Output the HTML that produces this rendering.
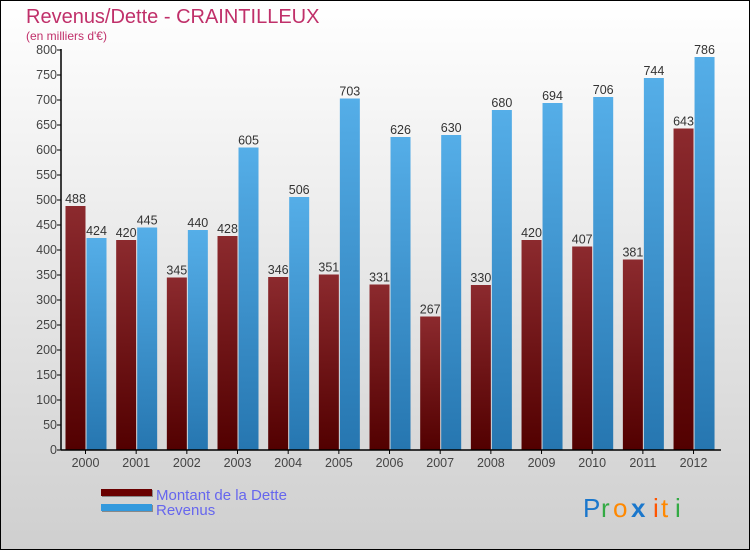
<!DOCTYPE html>
<html><head><meta charset="utf-8"><style>
body{margin:0}
#c{width:748px;height:548px;border:1px solid #000;background:linear-gradient(#fff,#cfcfcf);position:relative;font-family:"Liberation Sans",sans-serif}
</style></head><body>
<div id="c">
<svg id="s" width="748" height="548" style="position:absolute;left:0;top:0">
<defs>
<linearGradient id="gd" x1="0" y1="0" x2="0" y2="1"><stop offset="0" stop-color="#8c2a2e"/><stop offset="1" stop-color="#520000"/></linearGradient>
<linearGradient id="gr" x1="0" y1="0" x2="0" y2="1"><stop offset="0" stop-color="#55aee8"/><stop offset="1" stop-color="#2676b0"/></linearGradient>
</defs>
<text x="25" y="22" font-size="20" fill="#c0306a">Revenus/Dette - CRAINTILLEUX</text>
<text x="25" y="39" font-size="12" fill="#c0306a">(en milliers d'€)</text>
<g id="plot"></g>
<g>
<rect x="101" y="489" width="51" height="7" fill="#888"/>
<rect x="100" y="488" width="51" height="7" fill="#6a0000"/>
<rect x="101" y="504" width="51" height="7" fill="#888"/>
<rect x="100" y="503" width="51" height="7" fill="#3399dd"/>
<text x="155" y="499" font-size="15" fill="#6666ee">Montant de la Dette</text>
<text x="155" y="514" font-size="15" fill="#6666ee">Revenus</text>
</g>
<g font-size="26" font-family="'Liberation Sans',sans-serif">
<text x="582" y="516" fill="#1a77cc">P</text><text x="600" y="516" fill="#33aa44">r</text><text x="612" y="516" fill="#ff8800">o</text><text x="630" y="516" fill="#1a77cc" font-weight="bold">x</text><text x="652" y="516" fill="#ff5500">i</text><text x="660" y="516" fill="#ff8800">t</text><text x="674" y="516" fill="#33aa44">i</text>
</g>
</svg>
</div>
<script>
const years=["2000","2001","2002","2003","2004","2005","2006","2007","2008","2009","2010","2011","2012"];
const dette=[488,420,345,428,346,351,331,267,330,420,407,381,643];
const revenus=[424,445,440,605,506,703,626,630,680,694,706,744,786];
const yTicks=[0,50,100,150,200,250,300,350,400,450,500,550,600,650,700,750,800];
const NS="http://www.w3.org/2000/svg";
const g=document.getElementById("plot");
const y0=449,ppu=0.5,x0=60,step=50.67,c0=84.5;
const yS=v=>y0-v*ppu;
const xC=i=>c0+i*step;
function el(t,a,txt){const e=document.createElementNS(NS,t);for(const k in a)e.setAttribute(k,a[k]);if(txt!=null)e.textContent=txt;g.appendChild(e);return e;}
yTicks.forEach(v=>{
  const t=el("line",{x1:x0-4,x2:x0,y1:yS(v),y2:yS(v),stroke:"#000"});
  
  
  const l=el("text",{x:x0-4,y:yS(v)+4,"font-size":12.5,fill:"#444","text-anchor":"end"},v);
  
  
});
years.forEach((yr,i)=>{
  const c=xC(i);
  const bd=el("rect",{x:c-20,y:yS(dette[i]),width:20,height:dette[i]*ppu,fill:"url(#gd)"});
  
  
  const br=el("rect",{x:c+1,y:yS(revenus[i]),width:20,height:revenus[i]*ppu,fill:"url(#gr)"});
  
  
  const ld=el("text",{x:c-10,y:yS(dette[i])-3,"font-size":12.5,fill:"#333","text-anchor":"middle"},dette[i]);
  
  
  const lr=el("text",{x:c+11,y:yS(revenus[i])-3,"font-size":12.5,fill:"#333","text-anchor":"middle"},revenus[i]);
  
  
  const tk=el("line",{x1:c,x2:c,y1:y0,y2:y0+4,stroke:"#000"});
  
  
  const xl=el("text",{x:c,y:y0+17,"font-size":12.5,fill:"#444","text-anchor":"middle"},yr);
  
  
});
const ya=el("line",{x1:x0,x2:x0,y1:yS(800)-1,y2:y0,stroke:"#000","stroke-width":1.5});


const xa=el("line",{x1:x0,x2:720,y1:y0,y2:y0,stroke:"#000","stroke-width":1.5});


</script>
</body></html>
